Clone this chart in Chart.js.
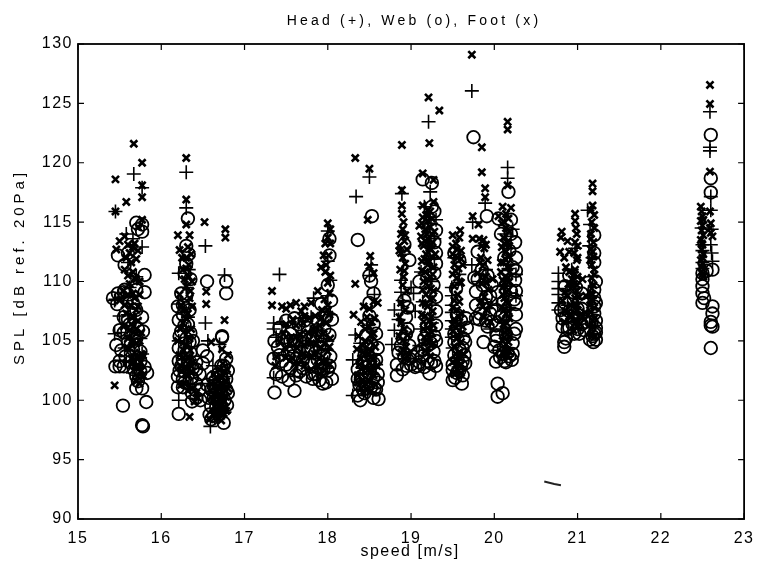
<!DOCTYPE html>
<html>
<head>
<meta charset="utf-8">
<style>
html, body { margin: 0; padding: 0; background: #fff; }
canvas { display: block; }
</style>
<script src="https://cdn.jsdelivr.net/npm/chart.js@4/dist/chart.umd.js"></script>
</head>
<body>
<canvas id="splChart" width="763" height="561"></canvas>
<script>
const xTicks = [15, 16, 17, 18, 19, 20, 21, 22, 23];
const yTicks = [90, 95, 100, 105, 110, 115, 120, 125, 130];
const plotTitle = 'Head (+), Web (o), Foot (x)';
const xTitle = 'speed [m/s]';
const yTitle = 'SPL [dB ref. 20Pa]';

// [speed, SPL], cluster by cluster
const headPoints = [
    [15.67,119.05],[15.77,117.9],[15.45,115.9],[15.58,114],[15.77,112.9],[15.66,113.6],[15.6,111.6],[15.7,110.4],[15.45,108.5],[15.55,108.7],[15.62,109.5],[15.44,108.4],[15.44,105.6],[15.5,107.1],[15.6,107.2],[15.68,106.8],[15.52,105.7],[15.64,105.5],[15.75,105.2],[15.56,104.4],[15.68,104.7],[15.77,103.9],[15.58,103.3],[15.7,102.9],[15.66,102.3],[15.74,103.5],
    [16.3,119.2],[16.3,116.2],[16.53,113],[16.21,110.7],[16.33,111],[16.3,109.5],[16.21,108.1],[16.25,107.4],[16.32,107],[16.21,105],[16.3,106],[16.36,104.5],[16.26,103.5],[16.34,102.8],[16.21,100],[16.38,101.3],
    [16.76,110.55],[16.53,106.5],[16.59,97.8],[16.56,105],[16.7,104.7],[16.62,102.9],[16.68,102],[16.74,101.2],[16.62,100.6],[16.7,99.6],[16.76,99],[16.58,101.4],[16.75,98.9],[16.64,98.5],[16.67,99.2],
    [17.42,110.6],[17.35,101.9],[17.6,102],[17.35,106.5],[17.35,106],[17.38,105.3],[17.45,106.4],[17.52,105.2],[17.6,104],[17.7,106.9],[17.8,107],[17.7,104.6],[17.83,108.6],[17.88,106],[17.95,105.2],[17.85,103.7],[18,103.2],[18,108.8],[18,111.7],[18,114.25],[18.03,110.1],[18.03,107.2],[17.97,102.7],
    [18.34,117.15],[18.5,118.8],[18.5,110.5],[18.52,111.4],[18.56,108.9],[18.47,106.3],[18.33,105.5],[18.39,104.8],[18.47,104],[18.55,103.8],[18.3,103.4],[18.42,102.7],[18.53,102.2],[18.3,100.4],[18.38,101.5],[18.45,100.8],[18.58,103],
    [18.89,117.4],[19.21,123.45],[19.23,117.55],[19.3,115.2],[18.88,110.1],[18.88,109.1],[19,109.5],[19.03,109],[18.9,108.4],[18.8,107.6],[18.85,106.8],[18.8,105.9],[18.77,104.7],[19.05,107.5],[19.12,110.8],[19.14,108.3],[19.2,112.9],[19.25,110],[19.28,113.6],[19.24,114.9],[19.12,106],[19.22,105.4],[19.1,104.6],[18.9,103.9],[19.28,111.9],[19.25,108],[19.25,106.5],[19.16,116.3],
    [19.49,109.5],[19.49,108.8],[19.49,108],[19.49,107.4],[19.49,106.7],[19.49,106],[19.49,105.3],[19.5,104.4],[19.52,112],[19.58,110.6],[19.55,103.6],[19.57,102.8],
    [19.73,126.05],[20.16,119.6],[20.16,118.7],[19.89,116.6],[19.73,111.4],[19.74,115],[20.22,114.4],[20.2,113.8],[20.2,112.8],[19.9,111],[19.82,110],[19.87,108.5],[20.04,108],[19.95,106],[20.12,109.6],[20.18,107.8],[20.1,106],[20.15,103.7],[20.26,110.6],[20.26,108.8],[20.17,111.1],[20.12,114],[20.04,104.2],
    [20.77,110.7],[20.77,110],[20.77,109.4],[20.77,108.9],[20.77,108.2],[20.77,107.6],[21.12,116],[21.15,114.8],[21.14,113],[21.18,112],[20.97,112.8],[20.93,111],[21.18,110.4],[21.15,108.6],[20.95,109.8],[20.88,108],[21,106.8],[21.18,106.3],
    [22.59,124.3],[22.59,121.3],[22.59,121],[22.6,117.15],[22.61,114.4],[22.6,113.1],[22.5,113.1],[22.5,112.6],[22.61,112.4],[22.5,111.6],[22.62,111.7],[22.5,111.1],[22.6,116],[22.49,114.5]
];

const webPoints = [
    [15.7,114.95],[15.77,114.8],[15.77,114.2],[15.72,114.4],[15.48,112.2],[15.6,112.4],[15.56,111.4],[15.8,110.55],[15.7,109.3],[15.48,109],[15.55,109.1],[15.6,108.9],[15.8,109.1],[15.47,108.1],[15.77,107],[15.55,107],[15.7,107.6],[15.62,106.4],[15.5,105.9],[15.55,105.7],[15.72,106],[15.46,104.65],[15.6,104.9],[15.66,104.3],[15.75,104.1],[15.57,103.7],[15.5,103.3],[15.45,102.85],[15.5,102.85],[15.55,102.85],[15.7,103],[15.75,103.3],[15.83,102.3],[15.7,102.05],[15.75,102.4],[15.7,101],[15.77,101],[15.82,99.85],[15.54,99.55],[15.78,97.8],[15.77,97.9],
    [15.56,109.3],[15.66,108.2],[15.6,106.8],[15.7,105.2],[15.62,103.2],[15.67,102.6],[15.8,102.8],[15.72,101.6],[15.52,104.2],[15.78,105.8],[15.42,108.6],
    [16.32,115.3],[16.3,113],[16.33,112.3],[16.3,111.5],[16.28,110.7],[16.35,110.2],[16.24,109],[16.3,108.8],[16.2,107.9],[16.26,108],[16.34,107.6],[16.21,106.75],[16.28,106.3],[16.35,105.65],[16.24,105.8],[16.3,105.2],[16.38,105],[16.21,104.4],[16.28,104.2],[16.35,104],[16.21,103.3],[16.26,103.4],[16.32,103.2],[16.38,102.7],[16.22,102.5],[16.28,102.4],[16.2,102],[16.26,101.8],[16.2,101.1],[16.26,101.1],[16.21,98.85],[16.42,102.6],[16.46,102.2],[16.37,101.9],[16.42,101.4],[16.46,100.9],[16.37,100.6],[16.42,100.2],[16.47,100],[16.37,99.9],
    [16.26,107.2],[16.32,106.4],[16.22,105.4],[16.34,104.9],[16.3,103.9],[16.24,102.9],[16.3,102.7],[16.36,101.9],[16.28,101.5],[16.42,103.2],[16.5,103.1],
    [16.55,110],[16.78,110],[16.78,109],[16.73,105.4],[16.73,105.3],[16.78,103.5],[16.55,103.7],[16.5,104.2],[16.75,102.9],[16.8,102.5],[16.72,102.1],[16.78,101.8],[16.62,101.9],[16.55,101.3],[16.6,100.9],[16.66,101],[16.72,100.7],[16.8,100.6],[16.57,100.2],[16.63,100.2],[16.69,100.1],[16.76,100],[16.6,99.5],[16.66,99.4],[16.72,99.5],[16.79,99.6],[16.63,98.7],[16.69,98.8],[16.75,98.1],[16.58,98.8],
    [16.68,102.2],[16.74,101.5],[16.63,101.2],[16.72,102.9],[16.78,100.9],[16.7,99.8],[16.6,98.4],
    [17.36,100.65],[17.6,100.8],[17.38,102.2],[17.35,103.5],[17.4,104.5],[17.36,105],[17.42,106.1],[17.5,106.7],[17.6,106.9],[17.45,103.3],[17.55,102.7],[17.66,102.4],[17.74,102],[17.62,103.5],[17.52,104],[17.7,103.4],[17.8,103],[17.92,102.6],[17.98,101.5],[18.05,101.8],[17.9,101.7],[17.85,102.2],[18,102.5],[17.76,104.2],[17.85,104],[17.95,103.8],[18.03,103.7],[17.6,105],[17.72,105.3],[17.82,105.2],[17.92,105.4],[18.02,105.5],[17.65,106.4],[17.88,106.7],[17.98,107],[18.05,106.8],[17.92,108.1],[18.02,112.2],[18.02,113.6],[18,109.7],[18.04,108.4],
    [17.42,103.8],[17.5,103],[17.58,103.7],[17.66,105],[17.72,104.5],[17.48,105.3],[17.55,105.6],[17.8,104.4],[17.88,103.4],[17.95,102.7],[17.7,102.7],[17.82,102.2],[17.45,102],[17.55,105],[17.62,102.1],[17.9,104.5],[18.02,102.9],[17.76,106.1],[17.86,105.9],[17.96,106],[17.94,101.4],[17.82,101.8],[17.72,106.7],[17.53,101.7],
    [18.53,115.5],[18.36,113.5],[18.5,110.5],[18.52,110],[18.55,109],[18.5,107.1],[18.55,106.4],[18.58,105.6],[18.52,104.8],[18.48,104.5],[18.58,103.4],[18.42,103.2],[18.5,103],[18.36,102.6],[18.44,102.2],[18.55,101.9],[18.6,101.5],[18.38,101.3],[18.46,101],[18.52,101.1],[18.58,100.9],[18.36,100.4],[18.39,100],[18.55,100.2],[18.44,100.6],[18.61,100.1],
    [18.46,105.5],[18.55,103.1],[18.4,102],[18.5,102.3],[18.6,102.2],[18.44,103.8],[18.6,104.4],[18.5,108.2],[18.42,100.9],[18.56,101],[18.36,101.8],
    [18.83,102.1],[18.83,103],[18.85,104],[18.92,103.6],[18.98,103.5],[19.05,102.8],[19.1,103.2],[19.16,102.8],[19.22,102.25],[19.2,103.3],[19.27,104.1],[19.24,104.8],[19.14,104.3],[19.08,104],[18.98,104.6],[18.9,105.2],[19.28,105.4],[19.3,106.3],[19.3,107.5],[19.3,108.7],[18.92,108.4],[18.94,107],[18.96,106],[19.27,109.7],[19.3,111.5],[18.98,111.8],[18.92,113.1],[19.3,112.4],[19.25,116.3],[19.25,118.3],[19.14,118.6],[19.1,110],
    [18.88,104.6],[18.94,105.6],[19,103],[19.02,103.7],[19.08,102.9],[19.13,103.7],[19.2,104.6],[19.28,103.3],[19.3,102.9],[19.16,105.2],[19.3,105],[18.96,107.8],[19.28,110.7],[19.28,113.3],[19.3,114.3],[19.28,115.9],[18.9,102.6],[18.95,102.9],[19.24,103.1],
    [19.61,101.4],[19.5,101.7],[19.5,102.55],[19.6,102.9],[19.55,102.3],[19.62,103.3],[19.52,103.8],[19.64,103.8],[19.58,104.3],[19.52,104.9],[19.63,105.2],[19.67,106.1],[19.6,106.7],[19.55,107.2],[19.54,109.4],[19.58,111.8],[19.52,112.4],
    [19.58,102.5],[19.65,103.1],[19.52,105.6],[19.62,104.4],[19.65,104.9],[19.56,103.4],[19.66,106.9],[19.5,103],[19.53,101.9],[19.62,102.1],
    [19.75,122.15],[20.17,117.55],[19.91,115.5],[19.8,112.5],[20.05,115.3],[20.08,114],[19.78,109.15],[19.8,110.2],[19.85,111],[19.92,110.5],[19.97,109.7],[19.95,108.8],[20.04,109.1],[19.78,108],[19.83,107.3],[19.9,106.7],[19.97,106.6],[19.87,104.9],[20.02,106.3],[20.03,105.4],[20,104.5],[20.02,103.25],[20.07,103.6],[20.12,103.3],[20.21,103.4],[20.16,104],[20.22,104.8],[20.26,106],[20.26,107.2],[20.24,108.5],[20.2,109.2],[20.25,110.1],[20.22,111.2],[20.26,112],[20.25,113.3],[20.2,114],[20.18,112.6],[20.12,112],[20.14,110.5],[20.1,108.2],[20.07,107],[20.14,105.6],[20.04,101.4],[20.1,100.6],[20.04,100.3],[20.2,115.2],
    [19.86,109.7],[19.9,108.7],[19.82,106.8],[19.78,106.9],[19.76,110.3],[19.92,106.2],[19.95,107.3],[20.02,107.6],[20.02,105],[20.1,103.9],[20.18,103.7],[20.06,104.2],[20.14,103.2],[20.26,108.1],[20.26,109.2],[20.26,110.9],[20.24,105.6],[20.22,103.9],
    [20.84,104.5],[20.84,104.9],[20.82,106.2],[20.86,107],[20.8,107.6],[20.88,106],[20.96,105.6],[21,106],[21.05,106.4],[21.19,104.9],[21.22,105.1],[21.15,105.1],[21.2,105.6],[21.22,106.1],[21.17,106.6],[21.2,107.3],[21.2,108.6],[21.2,109.3],[21.22,110],[21.2,111.6],[21.2,112.4],[21.2,113.9],[21.05,107.7],[20.85,108.2],[20.92,109.1],[21,107.2],
    [20.86,105.2],[20.9,106.1],[20.82,106.9],[20.9,107.5],[20.94,106.4],[21.02,105.6],[21.08,105.9],[21.1,106.6],[21,107.7],[21.18,105.4],[21.22,105.7],[21.22,106.7],[20.85,109.6],[20.9,110.5],[20.98,109.5],[21.05,109],[21.2,107.9],[21.22,108.2],
    [22.6,122.35],[22.6,118.7],[22.6,117.5],[22.62,111],[22.5,110.7],[22.5,110.2],[22.5,109.6],[22.5,109],[22.52,108.6],[22.5,108.2],[22.62,107.9],[22.62,107.3],[22.6,106.3],[22.62,106.2],[22.6,106.6],[22.6,104.4],[22.55,110.9]
];

const footPoints = [
    [15.67,121.6],[15.77,120],[15.45,118.6],[15.77,118.1],[15.77,117.1],[15.58,116.7],[15.45,115.9],[15.77,115.2],[15.72,114.6],[15.56,113.8],[15.5,113.4],[15.46,112.7],[15.6,113.1],[15.68,113.2],[15.62,112.4],[15.64,111.6],[15.7,111.9],[15.56,111],[15.66,110.8],[15.7,110.2],[15.62,109.8],[15.74,110],[15.54,109.2],[15.6,108.9],[15.5,108.4],[15.68,108.6],[15.63,108],[15.7,107.6],[15.58,107.3],[15.66,107],[15.72,106.7],[15.55,106.2],[15.62,105.9],[15.7,105.6],[15.6,105.2],[15.74,105],[15.65,104.6],[15.68,104],[15.72,103.6],[15.75,103.2],[15.69,102.8],[15.76,102.5],[15.72,102],[15.44,101.25],[15.78,103.8],[15.64,103.5],
    [15.66,112.9],[15.58,112],[15.72,112.6],[15.68,110.3],[15.6,110.5],[15.74,108.9],[15.66,109],[15.56,108],[15.72,107.9],[15.64,106.4],[15.7,106],[15.76,105.7],[15.6,104.4],[15.7,104.8],[15.66,103.2],[15.73,102.9],[15.78,102.1],[15.7,101.6],[15.74,101.4],[15.76,103.9],[15.67,105],
    [16.3,120.4],[16.3,116.9],[16.2,113.9],[16.34,113.9],[16.22,112.65],[16.3,114.8],[16.32,112.9],[16.36,112.3],[16.3,112],[16.33,111.4],[16.26,111],[16.33,110.4],[16.37,110],[16.3,109.6],[16.22,108.9],[16.34,108.6],[16.24,108],[16.37,107.9],[16.32,107.3],[16.26,106.5],[16.36,106],[16.2,105],[16.3,104.7],[16.35,104.2],[16.22,103.8],[16.38,103.2],[16.25,102.5],[16.33,102.1],[16.28,101.4],[16.38,101],[16.34,98.6],[16.42,100.6],[16.44,100.2],[16.4,99.9],
    [16.3,111.1],[16.25,112],[16.28,110.2],[16.35,109.2],[16.27,107.6],[16.3,106.9],[16.23,106],[16.34,105.2],[16.27,104.2],[16.33,103.6],[16.23,102.9],[16.29,102.7],[16.36,102.4],[16.24,101.3],[16.32,100.8],
    [16.52,115],[16.77,114.4],[16.77,113.7],[16.54,109.15],[16.54,108.1],[16.76,106.75],[16.6,104.9],[16.73,104.3],[16.8,103.8],[16.74,103.1],[16.79,102.6],[16.72,102],[16.78,101.6],[16.6,101.4],[16.68,101.2],[16.75,101],[16.65,100.8],[16.7,100.5],[16.78,100.3],[16.62,100],[16.68,99.8],[16.73,99.6],[16.77,99.4],[16.66,99.2],[16.71,99],[16.75,98.9],[16.62,98.8],[16.68,98.5],[16.72,98.3],[16.58,98.4],[16.64,99.5],[16.7,100.1],[16.76,99.9],[16.6,100.3],[16.69,101.7],[16.75,102.4],[16.63,102.2],
    [16.7,102.6],[16.66,101.9],[16.72,101.4],[16.77,100.8],[16.7,100.9],[16.65,100.3],[16.73,100.2],[16.69,99.5],[16.75,99.3],[16.65,98.9],[16.72,98.9],[16.78,99.1],[16.8,101],[16.63,101.1],
    [17.33,109.2],[17.33,108],[17.45,107.9],[17.5,107.7],[17.55,108],[17.62,108.2],[17.68,107.5],[17.72,107.9],[17.8,108.2],[17.88,109.2],[17.92,111.2],[17.97,110.8],[18.01,112.2],[17.95,112.2],[18,114.9],[18.03,114.4],[18,113.7],[17.97,113.2],[18.03,113.2],[18,109.9],[18.02,109],[17.96,108.5],[18,108],[17.93,107.6],[18.02,107.2],[17.85,107.1],[17.78,106.9],[17.7,106.5],[17.62,106.3],[17.98,106.5],[17.9,106.3],[17.83,106],[17.76,105.7],[17.67,105.5],[17.56,105.3],[17.47,105.6],[17.95,105.6],[18.03,105.2],[17.88,105.1],[17.8,104.8],[17.72,104.6],[17.63,104.4],[17.5,104.3],[17.92,104.4],[18,104.1],[17.84,103.9],[17.75,103.7],[17.68,103.4],[17.58,103.5],[17.95,103.3],[18.02,103],[17.88,102.9],[17.8,102.6],[17.38,103.7],[17.42,104.9],[17.37,102.9],
    [17.5,103.6],[17.55,104.8],[17.65,105],[17.6,103],[17.72,102.9],[17.8,103.7],[17.86,104.7],[17.9,103.5],[17.96,104.8],[18.02,104.5],[17.78,105.1],[17.7,103.9],[17.84,105.7],[17.92,106.9],[18,107.6],[17.96,102.5],[17.9,102.2],[17.5,106.4],[17.58,106.8],[17.72,107.1],[18.03,110.5],[17.98,111.4],
    [18.33,120.4],[18.5,119.5],[18.48,115.2],[18.51,112.15],[18.5,111.3],[18.55,110.7],[18.33,109.8],[18.43,107.9],[18.55,108.3],[18.6,108.2],[18.31,107.2],[18.5,107.7],[18.47,107],[18.56,106.9],[18.4,106.6],[18.5,106.2],[18.55,105.6],[18.37,105.4],[18.45,105],[18.52,104.9],[18.57,104.5],[18.35,104.3],[18.42,104],[18.48,103.8],[18.55,103.5],[18.38,103],[18.45,102.8],[18.52,102.6],[18.59,102.9],[18.36,102.1],[18.42,101.7],[18.5,101.6],[18.57,101.3],[18.4,101],[18.47,100.9],
    [18.45,106],[18.52,105.5],[18.42,104.6],[18.5,104.3],[18.4,103.5],[18.5,103.1],[18.45,102.3],[18.55,102.1],[18.36,101.5],[18.52,100.8],[18.45,101.4],[18.53,106.6],
    [18.89,121.5],[18.89,117.7],[18.89,116.4],[18.91,115],[18.88,114],[18.92,113.4],[18.86,112.6],[18.9,112],[18.93,111.5],[18.87,111],[18.91,110.4],[18.88,106.5],[18.92,106],[18.86,105.4],[18.9,105],[18.94,104.5],[18.88,104],[18.92,103.5],
    [18.89,115.7],[18.9,114.4],[18.93,113.9],[18.86,113],[18.95,112.7],[18.88,112.4],[18.92,110.9],[18.9,109.7],[18.95,109.2],[18.88,108.2],[18.93,107.6],[18.86,107],[18.96,105.5],[18.9,104.2],[18.96,103.7],
    [19.21,125.5],[19.34,124.4],[19.22,121.65],[19.14,119.1],[19.27,118.55],[19.14,116.4],[19.2,116],[19.27,116.7],[19.14,115.4],[19.2,115.1],[19.25,115.3],[19.1,114.7],[19.17,114.4],[19.23,114.6],[19.28,114.2],[19.12,113.8],[19.2,113.6],[19.26,113.3],[19.15,113],[19.22,112.8],[19.18,112.3],[19.25,112.1],[19.13,111.7],[19.2,111.4],[19.27,111.2],[19.17,110.8],[19.23,110.4],[19.15,110],[19.21,109.6],[19.27,109.2],[19.18,108.9],[19.23,108.5],[19.14,108.2],[19.2,107.9],[19.26,107.5],[19.17,107.1],[19.22,106.7],[19.27,106.3],[19.15,106],[19.21,105.6],[19.18,105],[19.24,104.6],[19.2,104],
    [19.18,115.6],[19.23,115.9],[19.13,114.9],[19.19,114],[19.25,114],[19.13,113.2],[19.17,113.4],[19.24,112.7],[19.16,111.9],[19.22,111.7],[19.29,112.3],[19.13,110.9],[19.2,110.2],[19.26,110.6],[19.14,109.3],[19.24,109.4],[19.18,108.1],[19.26,108.6],[19.13,107.2],[19.24,107],[19.15,106.6],[19.2,106.1],[19.25,105.7],[19.16,105.3],[19.22,104.9],[19.27,104.8],[19.17,104.2],[19.23,103.7],[19.2,115.5],[19.24,113.1],
    [19.59,114.3],[19.5,113.9],[19.58,113.7],[19.5,112.95],[19.55,112.7],[19.5,112.3],[19.56,112],[19.6,111.9],[19.52,111.4],[19.57,111.1],[19.62,111.4],[19.5,110.6],[19.55,110.3],[19.6,109.9],[19.58,108.3],[19.52,108.4],[19.55,107.6],[19.6,107.3],[19.52,106.8],[19.57,106.4],[19.62,106.2],[19.5,105.8],[19.55,105.2],[19.6,104.9],[19.52,104.5],[19.58,104],[19.63,103.9],[19.55,103.4],[19.6,103],[19.5,103.2],[19.55,102.6],
    [19.54,113.2],[19.6,112.6],[19.53,110.9],[19.58,110],[19.52,109.6],[19.56,108.9],[19.5,107.8],[19.58,107],[19.54,106.1],[19.6,105.6],[19.54,103.9],[19.58,102.9],[19.52,102.2],[19.6,102.3],[19.56,105.5],[19.5,106.4],
    [19.73,129.1],[19.85,121.3],[20.16,123.45],[20.16,122.8],[20.16,118.1],[19.85,119.2],[19.89,117.85],[19.89,117.1],[19.74,115.5],[19.81,114.8],[19.74,113.6],[19.82,113.6],[19.87,113.5],[20.05,115.5],[20.2,116.2],[20.1,116.3],[20.14,115.7],[20.09,114.9],[20.14,114.5],[20.18,114.2],[20.11,113.7],[20.16,113.3],[20.09,112.9],[20.14,112.5],[20.18,112.1],[20.11,111.6],[20.16,111.2],[20.08,110.8],[20.13,110.4],[20.18,110],[20.1,109.5],[20.15,109.1],[20.12,108.6],[20.17,108.2],[20.09,107.8],[20.14,107.3],[20.18,106.9],[20.11,106.4],[20.15,105.9],[20.12,105.3],[20.17,104.9],[20.13,104.3],[20.16,103.8],[19.88,112.8],[19.84,112],[19.92,111.8],[19.86,111.3],[19.8,110.7],[19.9,110.4],[19.85,109.8],[19.93,109.3],[19.88,108.7],[19.83,108.2],[19.91,107.6],[19.87,107],[19.95,106.6],
    [20.12,115],[20.17,115.3],[20.12,113.2],[20.18,113],[20.13,111.9],[20.08,111.6],[20.18,111.2],[20.1,110.1],[20.16,110.3],[20.12,109.9],[20.17,109.3],[20.1,108.9],[20.14,108.3],[20.12,107.6],[20.17,107.5],[20.09,106.8],[20.15,106.5],[20.13,105.7],[20.18,105.4],[20.1,105],[20.14,104.7],[20.1,104],[20.18,104.1],[19.85,113],[19.9,113.1],[19.83,111.6],[19.9,109.9],[19.86,107.9],[19.94,108],[19.98,110.2],
    [21.18,118.25],[21.18,117.6],[21.18,116.4],[21.16,116],[21.2,115.6],[21.17,115],[21.2,114.5],[21.16,114],[21.19,113.3],[21.16,112.7],[21.19,112.1],[21.17,111.4],[21.2,111],[21.17,110.3],[21.19,109.7],[21.16,109],[21.18,108.4],[21.2,107.8],[21.16,107.4],[21.18,106.7],
    [20.97,115.7],[20.97,115.1],[20.98,114.5],[20.99,114],[20.97,113.3],[21,113],[20.96,112.4],[20.99,111.8],[20.97,111],[21,110.4],[20.96,109.8],[20.99,109.2],[20.97,108.6],[21,108],[20.96,107.4],[20.98,106.8],
    [20.81,114.2],[20.8,113.7],[20.88,113.4],[20.79,112.5],[20.84,112],[20.9,112.5],[20.86,111.2],[20.9,110.8],[20.92,109.4],[20.88,108.8],[20.92,108],[20.85,107.5],[20.9,107.1],
    [21.16,113.6],[21.18,112.5],[21.15,111.8],[21.2,110.6],[21.17,109.4],[21.18,108.9],[21.15,108],[21.2,106.9],[21.18,106.2],[21.17,105.6],[21.2,105.3],[21,112],[20.96,110.6],[20.99,109.7],[21.02,108.7],[20.97,108.1],[21,107.6],[21.04,107.2],[20.97,106.5],[21.01,106.2],[20.95,105.9],[20.89,109.8],[20.85,109.1],[20.82,108.4],[20.93,110.2],[20.88,107.4],[20.84,106.6],[21.08,106.8],[21.1,108.8],[21.06,110.2],[21.09,107.4],
    [22.59,126.55],[22.59,124.95],[22.59,119.25],[22.59,115.9],[22.6,114.9],[22.59,114.5],[22.62,113.8],[22.48,116.3],[22.49,115.9],[22.5,115.5],[22.48,115.1],[22.5,114.7],[22.49,114.3],[22.51,113.9],[22.48,113.5],[22.5,113.1],[22.49,112.7],[22.51,112.3],[22.5,111.5],[22.49,110.8],[22.51,110.4],
    [22.49,113.2],[22.5,112],[22.48,111.8],[22.49,111.2],[22.51,115.2],[22.6,114.1],[22.5,110.6]
];

// the little smudge below the 21 column on the scan
const smudgePoints = [[20.6,93.15],[20.66,93.05],[20.72,92.95],[20.8,92.85]];

const toXY = pts => pts.map(p => ({ x: p[0], y: p[1] }));

// inward matlab-style ticks on all four sides, the box, and the spaced-out scan lettering
const frame = {
    id: 'frame',
    beforeDraw(chart) {
        chart.ctx.letterSpacing = '1.5px';
    },
    afterDraw(chart) {
        const { ctx, chartArea: a, scales } = chart;
        ctx.save();
        ctx.strokeStyle = '#000';
        ctx.lineWidth = 1.8;
        ctx.strokeRect(a.left, a.top, a.right - a.left, a.bottom - a.top);
        ctx.lineWidth = 1.2;
        ctx.beginPath();
        xTicks.forEach(t => {
            const x = scales.x.getPixelForValue(t);
            ctx.moveTo(x, a.bottom); ctx.lineTo(x, a.bottom - 6);
            ctx.moveTo(x, a.top); ctx.lineTo(x, a.top + 6);
        });
        yTicks.forEach(t => {
            const y = scales.y.getPixelForValue(t);
            ctx.moveTo(a.left, y); ctx.lineTo(a.left + 6, y);
            ctx.moveTo(a.right, y); ctx.lineTo(a.right - 6, y);
        });
        ctx.stroke();

        ctx.fillStyle = '#000';
        ctx.textAlign = 'center';
        ctx.textBaseline = 'middle';
        ctx.font = '14px "Liberation Sans"';
        ctx.letterSpacing = '3.2px';
        ctx.fillText(plotTitle, 414, 21);
        ctx.font = '16px "Liberation Sans"';
        ctx.letterSpacing = '1.5px';
        ctx.fillText(xTitle, 410, 552);
        ctx.save();
        ctx.translate(20, 267);
        ctx.rotate(-Math.PI / 2);
        ctx.font = '15px "Liberation Sans"';
        ctx.letterSpacing = '4px';
        ctx.fillText(yTitle, 0, 0);
        ctx.restore();
        ctx.restore();
    }
};

new Chart(document.getElementById('splChart').getContext('2d'), {
    type: 'scatter',
    plugins: [frame],
    data: {
        datasets: [
            { label: 'Web', data: toXY(webPoints), pointStyle: 'circle', pointRadius: 6.3, borderColor: '#000', backgroundColor: 'transparent', borderWidth: 1.8 },
            { label: 'Head', data: toXY(headPoints), pointStyle: 'cross', pointRadius: 7, borderColor: '#000', backgroundColor: 'transparent', borderWidth: 1.6 },
            { label: 'Foot', data: toXY(footPoints), pointStyle: 'crossRot', pointRadius: 5, borderColor: '#000', backgroundColor: 'transparent', borderWidth: 2.6 },
            { label: 'smudge', data: toXY(smudgePoints), showLine: true, pointRadius: 0, borderColor: '#222', borderWidth: 2 }
        ]
    },
    options: {
        responsive: false,
        animation: false,
        devicePixelRatio: 1,
        layout: { padding: { left: 0, right: 12, top: 44, bottom: 0 } },
        plugins: {
            legend: { display: false },
            tooltip: { enabled: false }
        },
        scales: {
            x: {
                type: 'linear',
                min: 15,
                max: 23,
                afterBuildTicks: axis => { axis.ticks = xTicks.map(v => ({ value: v })); },
                afterFit: axis => { axis.height = 42; },
                grid: { display: false, drawTicks: false },
                border: { display: false },
                ticks: { color: '#000', padding: 10, maxRotation: 0, autoSkip: false, font: { family: '"Liberation Sans"', size: 16 } }
            },
            y: {
                min: 90,
                max: 130,
                afterBuildTicks: axis => { axis.ticks = yTicks.map(v => ({ value: v })); },
                afterFit: axis => { axis.width = 78; },
                grid: { display: false, drawTicks: false },
                border: { display: false },
                ticks: { color: '#000', padding: 5, autoSkip: false, font: { family: '"Liberation Sans"', size: 16 } }
            }
        }
    }
});
</script>
</body>
</html>
